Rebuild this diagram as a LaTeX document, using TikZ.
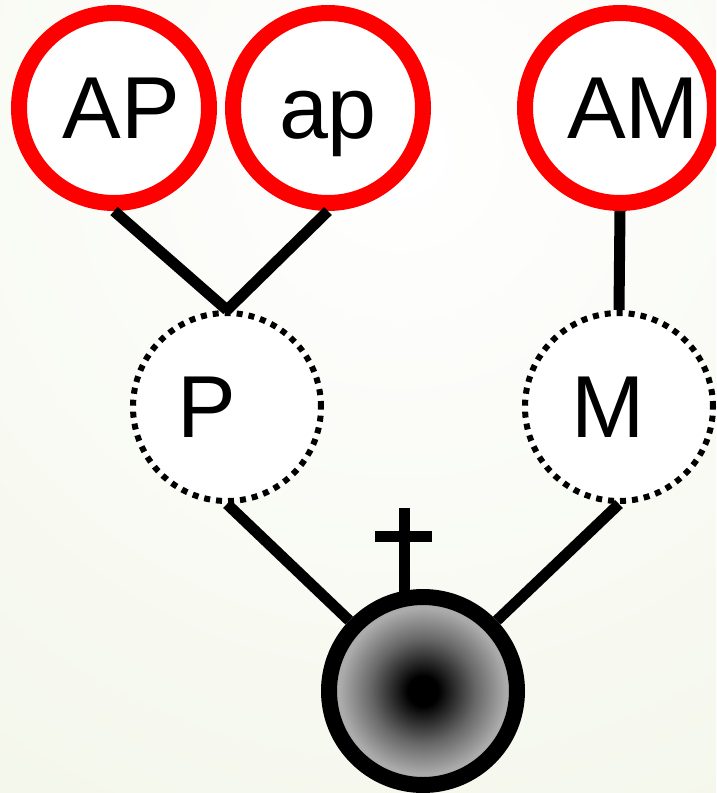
\documentclass[tikz,border=0pt]{standalone}
\usepackage{fontspec}
\setmainfont{Liberation Sans}
\definecolor{bgouter}{HTML}{E9EFD8}
\definecolor{balledge}{HTML}{ABABAB}
\definecolor{ballmid}{HTML}{686868}
\pgfdeclareradialshading{ballshade}{\pgfpoint{0bp}{0bp}}{color(0bp)=(black); color(4bp)=(black); color(14bp)=(ballmid); color(22bp)=(balledge); color(50bp)=(balledge)}
\tikzset{
  lbl/.style={font=\fontsize{88}{88}\selectfont, text height=61pt, text depth=0pt, inner sep=0pt},
  redc/.style={circle, lbl, draw=red, fill=white, line width=16pt, minimum size=190pt},
  dotc/.style={circle, lbl, draw=black, fill=white, line width=6pt, dash pattern=on 6pt off 6pt, minimum size=188pt},
  ballc/.style={circle, draw=black, line width=16pt, minimum size=188pt, shading=ballshade},
  conn/.style={line width=11pt, black},
}
\begin{document}
\begin{tikzpicture}[x=1pt,y=-1pt]
\clip (0,0) rectangle (716,793);
\useasboundingbox (0,0) rectangle (716,793);
\shade[inner color=white, outer color=bgouter] (400,150) circle (1500pt);
% cross
\draw[conn] (404,600) -- (404,508);
\draw[conn] (375,536) -- (432,536);
% nodes
\node[redc] (AP) at (114,108) {\hspace*{15pt}AP};
\node[redc] (ap) at (328,108) {ap};
\node[redc] (AM) at (620,108) {\hspace*{26pt}AM};
\node[dotc] (P) at (227,407) {P\hspace*{40pt}};
\node[dotc] (M) at (619,407) {M\hspace*{22pt}};
\node[ballc] (ball) at (423,691) {};
% connectors
\draw[conn] (AP.south) -- (P.north);
\draw[conn] (ap.south) -- (P.north);
\draw[conn] (AM.south) -- (M.north);
\draw[conn] (P.south) -- (ball);
\draw[conn] (M.south) -- (ball);
\end{tikzpicture}
\end{document}
